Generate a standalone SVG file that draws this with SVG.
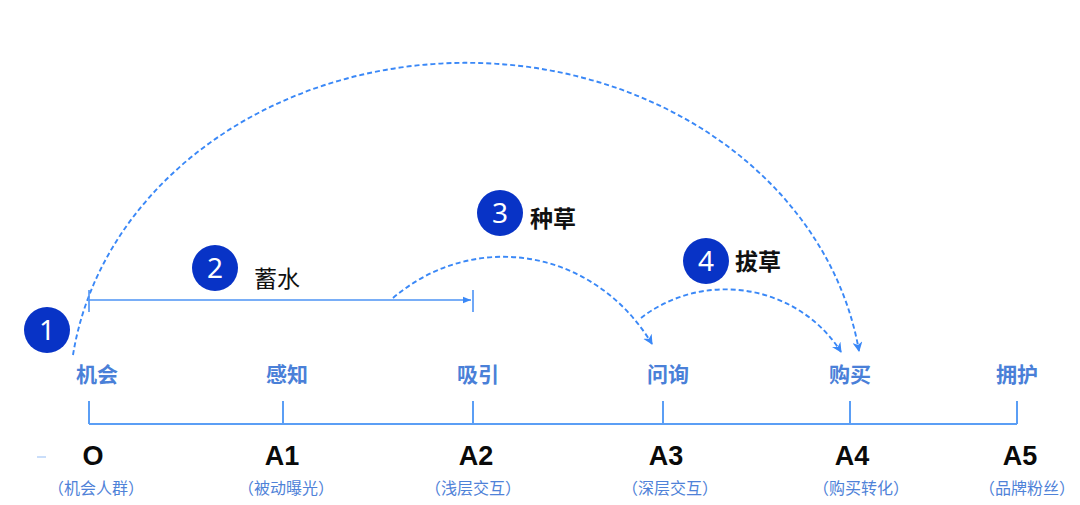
<svg xmlns="http://www.w3.org/2000/svg" width="1080" height="505" viewBox="0 0 1080 505">
<style>
.dash{fill:none;stroke:#3a88f7;stroke-width:1.9;stroke-dasharray:5 3}
.axis{fill:none;stroke:#5b9ef5;stroke-width:2}
.solid{fill:none;stroke:#4d93f5;stroke-width:1.6}
.badge{fill:#0833c6}
.num{font-family:"Noto Sans","Open Sans",sans-serif;font-size:28px;fill:#fff;text-anchor:middle}
.step{font-family:"Noto Sans CJK SC",sans-serif;font-size:23px;fill:#111}
.stage{font-family:"Noto Sans CJK SC",sans-serif;font-size:21px;font-weight:700;fill:#4a80d8;text-anchor:middle}
.code{font-family:"Liberation Sans",Arial,sans-serif;font-size:27px;font-weight:700;fill:#0a0a0a;text-anchor:middle}
.sub{font-family:"Noto Sans CJK SC",sans-serif;font-size:16px;fill:#4f82d8;text-anchor:middle}
</style>
<defs>
<marker id="arr" viewBox="0 0 10 10" refX="9" refY="5" markerWidth="10" markerHeight="10" markerUnits="userSpaceOnUse" orient="auto">
<path d="M0,0 L10,5 L0,10 L3,5 z" fill="#3a88f7"/>
</marker>
<marker id="tri" viewBox="0 0 10 10" refX="10" refY="5" markerWidth="8" markerHeight="8" markerUnits="userSpaceOnUse" orient="auto">
<path d="M0,1 L10,5 L0,9 z" fill="#3a88f7"/>
</marker>
</defs>
<rect width="1080" height="505" fill="#fff"/>

<g id="axis">
<path class="axis" d="M89,424 H1017 M89,401 V424 M283,401 V424 M473,401 V424 M663,401 V424 M850,401 V424 M1017,401 V424"/>
<line x1="37" y1="457" x2="46" y2="457" stroke="#b9d3f8" stroke-width="1.5"/>
</g>

<g id="connectors">
<path class="dash" d="M73,355 A397 338 0 0 1 859,351" marker-end="url(#arr)"/>
<path class="dash" d="M393,298 A177 190 0 0 1 652,344" marker-end="url(#arr)"/>
<path class="dash" d="M641,318 A135 130 0 0 1 841,352" marker-end="url(#arr)"/>
<path class="solid" d="M89,300 H471" marker-end="url(#tri)"/>
<path class="solid" d="M89,290 V312 M473,290 V312"/>
</g>

<g id="step1"><circle class="badge" cx="47" cy="330" r="23"/><text class="num" x="47" y="340">1</text></g>
<g id="step2"><circle class="badge" cx="215" cy="268" r="23"/><text class="num" x="215" y="278">2</text><text class="step" x="254" y="287">蓄水</text></g>
<g id="step3"><circle class="badge" cx="500" cy="213" r="23"/><text class="num" x="500" y="223">3</text><text class="step" x="530" y="227" font-weight="700">种草</text></g>
<g id="step4"><circle class="badge" cx="706" cy="261" r="23"/><text class="num" x="706" y="271">4</text><text class="step" x="735" y="270" font-weight="700">拔草</text></g>

<g id="stageO"><text class="stage" x="97" y="382">机会</text><text class="code" x="93" y="465">O</text><text class="sub" x="96" y="494">（机会人群）</text></g>
<g id="stageA1"><text class="stage" x="287" y="382">感知</text><text class="code" x="282" y="465">A1</text><text class="sub" x="286" y="494">（被动曝光）</text></g>
<g id="stageA2"><text class="stage" x="478" y="382">吸引</text><text class="code" x="476" y="465">A2</text><text class="sub" x="473" y="494">（浅层交互）</text></g>
<g id="stageA3"><text class="stage" x="668" y="382">问询</text><text class="code" x="666" y="465">A3</text><text class="sub" x="670" y="494">（深层交互）</text></g>
<g id="stageA4"><text class="stage" x="850" y="382">购买</text><text class="code" x="852" y="465">A4</text><text class="sub" x="861" y="494">（购买转化）</text></g>
<g id="stageA5"><text class="stage" x="1017" y="382">拥护</text><text class="code" x="1020" y="465">A5</text><text class="sub" x="1027" y="494">（品牌粉丝）</text></g>
</svg>
